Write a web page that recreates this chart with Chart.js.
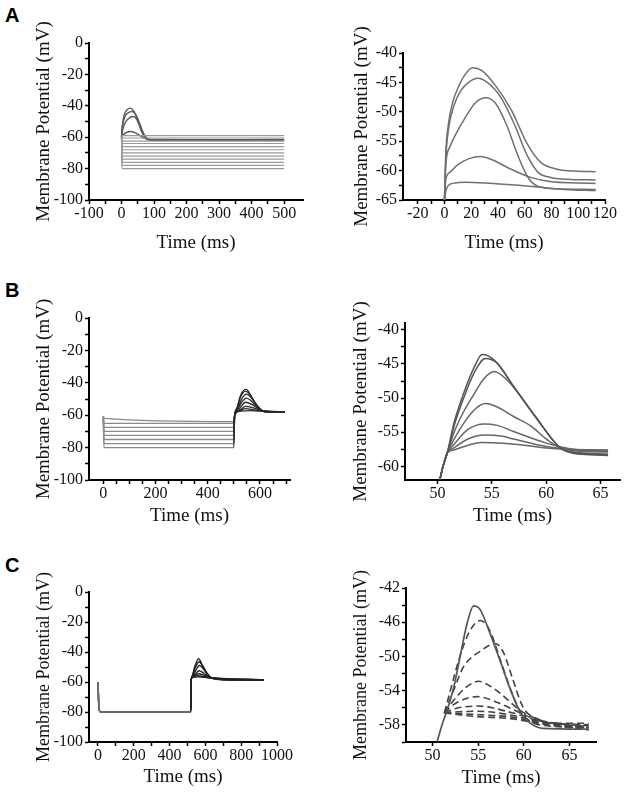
<!DOCTYPE html>
<html>
<head>
<meta charset="utf-8">
<script src="https://cdn.jsdelivr.net/npm/chart.js@4.4.0/dist/chart.umd.min.js"></script>
<style>
html, body { margin: 0; padding: 0; background: #fff; }
body { width: 628px; height: 793px; position: relative; overflow: hidden; }
.panel { position: absolute; }
.tag { position: absolute; font: bold 20px "Liberation Sans", Arial, sans-serif; line-height: 1; color: #000; z-index: 2; }
</style>
</head>
<body>
<div class="tag" style="left:5px;top:5px">A</div>
<div class="tag" style="left:5px;top:280px">B</div>
<div class="tag" style="left:5px;top:555px">C</div>

<div class="panel" id="boxAL"><canvas id="aLeft"></canvas></div>
<div class="panel" id="boxAR"><canvas id="aRight"></canvas></div>
<div class="panel" id="boxBL"><canvas id="bLeft"></canvas></div>
<div class="panel" id="boxBR"><canvas id="bRight"></canvas></div>
<div class="panel" id="boxCL"><canvas id="cLeft"></canvas></div>
<div class="panel" id="boxCR"><canvas id="cRight"></canvas></div>

<script>
// ---- axis ticks / labels ----
const aLeftXTicks = [-100, -50, 0, 50, 100, 150, 200, 250, 300, 350, 400, 450, 500];
const aLeftXLabels = [-100, 0, 100, 200, 300, 400, 500];
const mvTicks = [-100, -90, -80, -70, -60, -50, -40, -30, -20, -10, 0];
const mvLabels = [-100, -80, -60, -40, -20, 0];
const aRightXTicks = [-20, -10, 0, 10, 20, 30, 40, 50, 60, 70, 80, 90, 100, 110, 120];
const aRightXLabels = [-20, 0, 20, 40, 60, 80, 100, 120];
const aRightYTicks = [-65, -62.5, -60, -57.5, -55, -52.5, -50, -47.5, -45, -42.5, -40];
const aRightYLabels = [-65, -60, -55, -50, -45, -40];
const bLeftXTicks = [0, 50, 100, 150, 200, 250, 300, 350, 400, 450, 500, 550, 600, 650, 700];
const bLeftXLabels = [0, 200, 400, 600];
const bRightXTicks = [50, 55, 60, 65];
const bRightYTicks = [-60, -57.5, -55, -52.5, -50, -47.5, -45, -42.5, -40];
const bRightYLabels = [-60, -55, -50, -45, -40];
const cLeftXTicks = [0, 100, 200, 300, 400, 500, 600, 700, 800, 900, 1000];
const cLeftXLabels = [0, 200, 400, 600, 800, 1000];
const cRightXTicks = [50, 55, 60, 65];
const cRightYTicks = [-60, -58, -56, -54, -52, -50, -48, -46, -44, -42];
const cRightYLabels = [-58, -54, -50, -46, -42];

// ---- traces: [time ms, membrane potential mV] ----
// A left: hyperpolarised steps + subthreshold bumps
const aLeftRest = -60;
const aLeftLevels = [-80, -78, -76, -74, -72, -70, -68, -66, -64, -62.5, -60.5, -59];
const aLeftBump1 = [[0,-60],[3,-52],[8,-46],[15,-43],[27,-41.5],[38,-43.5],[50,-49],[62,-56],[75,-60.5],[90,-61.8],[200,-61.7],[370,-61.6],[500,-61.4]];
const aLeftBump2 = [[0,-60],[3,-53],[10,-47],[20,-44.5],[33,-43.6],[45,-46],[57,-52],[70,-58.5],[85,-61.5],[110,-62],[300,-61.8],[500,-61.6]];
const aLeftBump3 = [[0,-60],[4,-55],[12,-50.5],[25,-47.5],[38,-46.8],[50,-50],[62,-56.5],[75,-61],[95,-62],[300,-62],[500,-61.8]];
const aLeftBump4 = [[0,-60],[5,-58.5],[15,-57],[30,-56.4],[50,-58],[70,-60.5],[95,-61.5],[500,-61.7]];

// A right: zoom on the onset
const aRight1 = [[0,-65],[1,-57],[3,-52],[6,-48.5],[10,-46],[15,-43.8],[21,-42.5],[28,-43],[38,-45.5],[50,-49.7],[62,-55.5],[72,-58.6],[85,-59.8],[100,-60.1],[113,-60.2]];
const aRight2 = [[0,-65],[1,-58],[3,-53],[7,-49],[12,-46.5],[18,-45],[25,-44.3],[32,-45],[42,-47.5],[52,-52],[62,-57.5],[70,-60.3],[80,-61.2],[95,-61.5],[113,-61.6]];
const aRight3 = [[0,-65],[1,-59],[4,-56],[8,-54],[15,-51.2],[23,-48.5],[31,-47.6],[38,-48.5],[46,-52],[55,-57.5],[62,-61],[70,-62.7],[85,-63.1],[113,-63.2]];
const aRight4 = [[0,-65],[1,-61.5],[4,-60.3],[10,-59],[18,-58],[27,-57.6],[36,-58.2],[50,-59.8],[65,-61.2],[80,-61.9],[100,-62.1],[113,-62.2]];
const aRight5 = [[0,-65],[1,-63.5],[3,-62.5],[8,-62.1],[15,-62],[30,-62.1],[50,-62.4],[70,-62.8],[90,-63.2],[113,-63.4]];

// B left: hyperpolarising step then rebound
const bLeft1 = [[0,-61],[2,-80],[500,-80],[503,-60],[510,-56],[525,-48],[540,-44.3],[548,-44],[560,-46.5],[580,-52],[600,-56],[615,-57.8],[640,-58.3],[695,-58.2]];
const bLeft2 = [[0,-61],[2,-77.5],[500,-77.5],[503,-60],[510,-56.5],[525,-49],[545,-45.2],[560,-47],[580,-52],[600,-56],[615,-57.8],[640,-58.2],[695,-58.2]];
const bLeft3 = [[0,-61],[2,-75],[500,-75],[503,-60],[512,-56.5],[528,-50.5],[548,-47],[565,-49],[585,-53.5],[605,-57],[625,-58],[695,-58.1]];
const bLeft4 = [[0,-61],[2,-72.5],[500,-72.5],[503,-60],[515,-56],[530,-52],[548,-49.5],[565,-51],[590,-55.5],[615,-57.6],[695,-58]];
const bLeft5 = [[0,-61],[2,-70],[500,-70],[503,-60],[515,-57],[545,-52],[570,-53.5],[600,-56.5],[625,-57.7],[695,-58]];
const bLeft6 = [[0,-61],[2,-67.5],[500,-67.5],[503,-60],[520,-57],[545,-54.5],[575,-55.5],[610,-57.2],[695,-57.9]];
const bLeft7 = [[0,-61],[2,-65],[500,-65],[503,-60],[520,-57.5],[545,-56],[580,-56.7],[620,-57.5],[695,-57.9]];
const bLeft8 = [[0,-60.5],[3,-62],[500,-64],[503,-59.5],[525,-57.5],[560,-57.2],[620,-57.7],[695,-57.9]];

// B right
const bRight1 = [[50.2,-62],[50.5,-60],[50.9,-58],[51.5,-53.7],[52.4,-49.3],[53.4,-45.4],[54.1,-43.6],[55.2,-44.4],[57,-48.3],[59,-52.7],[61.3,-57.3],[62.5,-58.1],[64,-58.3],[65.7,-58.4]];
const bRight2 = [[50.2,-62],[50.5,-60],[50.9,-58],[51.5,-54.2],[52.4,-50],[53.4,-46.2],[54.4,-44.2],[55.5,-44.9],[57,-48.3],[59,-52.7],[61.3,-57.3],[62.5,-58],[64,-58.2],[65.7,-58.3]];
const bRight3 = [[50.2,-62],[50.5,-60],[50.9,-58],[51.5,-55.1],[52.4,-52],[53.4,-49.3],[54.3,-47.1],[55.2,-46.1],[56.3,-47.2],[57.6,-49.6],[59,-52.7],[61.3,-57.3],[62.5,-57.9],[65.7,-58.2]];
const bRight4 = [[50.2,-62],[50.5,-60],[50.9,-58],[51.5,-56.1],[52.4,-53.7],[53.4,-51.7],[54.4,-50.8],[55.5,-51.3],[57,-52.7],[58.6,-54.1],[60.1,-56.1],[61.3,-57.3],[63,-57.8],[65.7,-57.9]];
const bRight5 = [[50.2,-62],[50.5,-60],[50.9,-58],[51.5,-56.8],[52.8,-54.6],[54.3,-53.8],[55.5,-54],[57,-54.9],[60,-56.6],[61.5,-57.2],[63,-57.6],[65.7,-57.8]];
const bRight6 = [[50.2,-62],[50.5,-60],[50.9,-58],[51.5,-57.3],[52.8,-56],[54.3,-55.4],[56,-55.6],[57,-56],[60,-57.1],[62,-57.5],[65.7,-57.7]];
const bRight7 = [[50.2,-62],[50.5,-60],[50.9,-58],[51.5,-57.6],[52.8,-56.9],[54,-56.5],[56,-56.6],[58,-56.9],[60,-57.3],[62,-57.5],[65.7,-57.6]];

// C left
const cLeft1 = [[0,-60],[6,-78],[14,-80],[518,-80],[520,-60],[524,-57],[540,-50],[562,-44.4],[580,-48],[600,-52.5],[625,-56.5],[645,-57.8],[700,-58.5],[925,-58.8]];
const cLeft2 = [[0,-60],[6,-78],[14,-80],[518,-80],[520,-60],[524,-57],[542,-51],[565,-46.5],[585,-49.5],[605,-53.5],[628,-56.8],[650,-57.9],[700,-58.5],[925,-58.7]];
const cLeft3 = [[0,-60],[6,-78],[14,-80],[518,-80],[520,-60],[524,-57],[545,-52.5],[567,-49],[590,-51.5],[612,-55],[635,-57.3],[700,-58.3],[925,-58.6]];
const cLeft4 = [[0,-60],[6,-78],[14,-80],[518,-80],[520,-60],[524,-57],[545,-54.5],[565,-52.5],[590,-54],[615,-56.3],[640,-57.5],[925,-58.6]];
const cLeft5 = [[0,-60],[6,-78],[14,-80],[518,-80],[520,-60],[524,-57],[545,-55.5],[562,-54.5],[595,-55.6],[625,-57],[925,-58.5]];
const cLeft6 = [[0,-60],[6,-78],[14,-80],[518,-80],[520,-60],[524,-57],[545,-56.2],[560,-55.8],[600,-56.6],[630,-57.3],[925,-58.5]];
const cLeft7 = [[0,-60],[6,-78],[14,-80],[518,-80],[520,-60],[524,-57],[560,-56.6],[605,-57],[640,-57.6],[925,-58.4]];

// C right: solid control + dashed
const cRightSolid = [[50.5,-60],[51.1,-57.8],[51.6,-56.3],[52.35,-53.5],[53.1,-49.6],[53.8,-46.1],[54.5,-44.1],[55.2,-44.5],[56.3,-47.3],[57.4,-50.5],[58.5,-53.8],[59.6,-56.5],[60.7,-57.8],[62,-58.4],[67.1,-58.5]];
const cRightDash1 = [[51.3,-56.6],[52,-53.8],[53,-50],[54,-47.2],[55.2,-45.8],[56.2,-46.8],[57.4,-50.3],[58.5,-53.7],[59.6,-56.4],[60.7,-57.6],[62.5,-58.1],[67.1,-58.3]];
const cRightDash2 = [[51.3,-56.6],[52.3,-54],[53.4,-51.2],[55.2,-49.4],[56.9,-48.5],[57.8,-49.6],[58.8,-52.7],[59.9,-55.9],[61.7,-57.4],[63.5,-57.8],[67.1,-57.8]];
const cRightDash3 = [[51.3,-56.6],[52.35,-55.1],[53.8,-53.5],[55.05,-52.9],[56.2,-53.4],[57.4,-54.3],[59.6,-56.3],[61.7,-57.4],[63.5,-57.8],[67.1,-58]];
const cRightDash4 = [[51.3,-56.6],[52.5,-55.5],[54.9,-54.7],[57.4,-55.5],[59.6,-56.6],[62,-57.6],[67.1,-58.2]];
const cRightDash5 = [[51.3,-56.6],[52.5,-56.1],[54.9,-55.8],[58.8,-56.6],[62,-57.6],[67.1,-58.1]];
const cRightDash6 = [[51.3,-56.6],[52.5,-56.5],[54.9,-56.4],[58.8,-56.9],[62,-57.7],[67.1,-58.3]];
const cRightDash7 = [[51.3,-56.6],[54.9,-56.8],[58.8,-57.1],[62,-57.8],[67.1,-58.4]];
const cRightDash8 = [[51.3,-56.6],[54.5,-57],[58.8,-57.3],[62,-57.9],[67.1,-58.6]];

const SERIF = '"Liberation Serif", "Times New Roman", Times, serif';
Chart.defaults.font.family = SERIF;
Chart.defaults.font.size = 16;
Chart.defaults.color = '#111';

function pts(arr) { return arr.map(p => ({ x: p[0], y: p[1] })); }

function trace(arr, color, width, dash, split) {
    const ds = {
        data: pts(arr),
        borderColor: color,
        borderWidth: width || 1.3,
        borderDash: dash || [],
        pointRadius: 0,
        fill: false,
        cubicInterpolationMode: 'monotone'
    };
    // darker colour after the step release
    if (split) ds.segment = { borderColor: c => c.p0.parsed.x >= split.at ? split.color : color };
    return ds;
}

function scale(min, max, tickVals, labelVals, title, isX, size, titleSize) {
    return {
        type: 'linear',
        min: min,
        max: max,
        border: { display: true, color: '#000', width: 2 },
        grid: { drawOnChartArea: false, drawTicks: true, tickLength: 4, tickColor: '#000', tickWidth: 1.5 },
        ticks: {
            color: '#111',
            font: { family: SERIF, size: 16 },
            padding: isX ? 0 : 2,
            autoSkip: false,
            maxRotation: 0,
            includeBounds: false,
            callback: v => labelVals.includes(v) ? String(v) : ''
        },
        afterBuildTicks: s => { s.ticks = tickVals.map(v => ({ value: v })); },
        afterFit: s => { if (isX) s.height = size; else s.width = size; },
        title: { display: true, text: title, color: '#111', font: { family: SERIF, size: titleSize || 19 }, padding: 0 }
    };
}

// box = outer div; area = where the axes meet (chart area)
function makePanel(boxId, canvasId, box, area, xs, ys, datasets) {
    const div = document.getElementById(boxId);
    div.style.left = box.left + 'px';
    div.style.top = box.top + 'px';
    div.style.width = (box.right - box.left) + 'px';
    div.style.height = (box.bottom - box.top) + 'px';
    new Chart(document.getElementById(canvasId), {
        type: 'line',
        data: { datasets: datasets },
        options: {
            responsive: true,
            maintainAspectRatio: false,
            animation: false,
            layout: { padding: { top: area.top - box.top, right: box.right - area.right, left: 0, bottom: 0 } },
            plugins: { legend: { display: false }, tooltip: { enabled: false } },
            scales: {
                x: scale(xs.min, xs.max, xs.ticks, xs.labels, 'Time (ms)', true, box.bottom - area.bottom),
                y: scale(ys.min, ys.max, ys.ticks, ys.labels, 'Membrane Potential (mV)', false, area.left - box.left, ys.titleSize)
            }
        }
    });
}

// ---- A ----
const aLeftSets = aLeftLevels.map(L => trace([[0, aLeftRest], [1.5, L], [500, L]], '#9a9a9a', 1.2));
[aLeftBump1, aLeftBump2, aLeftBump3, aLeftBump4].forEach(b => aLeftSets.push(trace(b, '#5a5a5a', 1.4)));
makePanel('boxAL', 'aLeft',
    { left: 33, top: 12, right: 314, bottom: 254.4 },
    { left: 89, top: 43, right: 303, bottom: 200 },
    { min: -100, max: 558, ticks: aLeftXTicks, labels: aLeftXLabels },
    { min: -100, max: 0, ticks: mvTicks, labels: mvLabels },
    aLeftSets);

makePanel('boxAR', 'aRight',
    { left: 351, top: 12, right: 628, bottom: 254.4 },
    { left: 403, top: 53, right: 605, bottom: 200 },
    { min: -31, max: 120, ticks: aRightXTicks, labels: aRightXLabels },
    { min: -65, max: -40, ticks: aRightYTicks, labels: aRightYLabels },
    [aRight1, aRight2, aRight3, aRight4, aRight5].map(t => trace(t, '#707070', 1.5)));

// ---- B ----
makePanel('boxBL', 'bLeft',
    { left: 33, top: 288, right: 314, bottom: 527.4 },
    { left: 89, top: 318, right: 290, bottom: 480 },
    { min: -55, max: 715, ticks: bLeftXTicks, labels: bLeftXLabels },
    { min: -100, max: 0, ticks: mvTicks, labels: mvLabels },
    [bLeft1, bLeft2, bLeft3, bLeft4, bLeft5, bLeft6, bLeft7, bLeft8].map(t => trace(t, '#8a8a8a', 1.3, null, { at: 500, color: '#2a2a2a' })));

makePanel('boxBR', 'bRight',
    { left: 350, top: 288, right: 628, bottom: 527.4 },
    { left: 405, top: 323, right: 620, bottom: 480 },
    { min: 47, max: 66.8, ticks: bRightXTicks, labels: bRightXTicks },
    { min: -62, max: -39, ticks: bRightYTicks, labels: bRightYLabels },
    [bRight1, bRight2, bRight3, bRight4, bRight5, bRight6, bRight7].map((t, i) => trace(t, i < 2 ? '#555' : '#666', 1.5)));

// ---- C ----
makePanel('boxCL', 'cLeft',
    { left: 33, top: 532, right: 300, bottom: 788.4 },
    { left: 89, top: 592, right: 277, bottom: 742 },
    { min: -50, max: 1000, ticks: cLeftXTicks, labels: cLeftXLabels },
    { min: -100, max: 0, ticks: mvTicks, labels: mvLabels, titleSize: 18 },
    [cLeft1, cLeft2, cLeft3, cLeft4, cLeft5, cLeft6, cLeft7].map(t => trace(t, '#6a6a6a', 1.4, null, { at: 518, color: '#222' })));

const cRightSets = [trace(cRightSolid, '#555', 1.7)];
[cRightDash1, cRightDash2, cRightDash3, cRightDash4, cRightDash5, cRightDash6, cRightDash7, cRightDash8]
    .forEach(d => cRightSets.push(trace(d, '#444', 1.6, [7, 4])));
makePanel('boxCR', 'cRight',
    { left: 350, top: 532, right: 628, bottom: 789.4 },
    { left: 406, top: 588, right: 596, bottom: 742 },
    { min: 47.1, max: 67.9, ticks: cRightXTicks, labels: cRightXTicks },
    { min: -60, max: -42, ticks: cRightYTicks, labels: cRightYLabels, titleSize: 18 },
    cRightSets);
</script>
</body>
</html>
